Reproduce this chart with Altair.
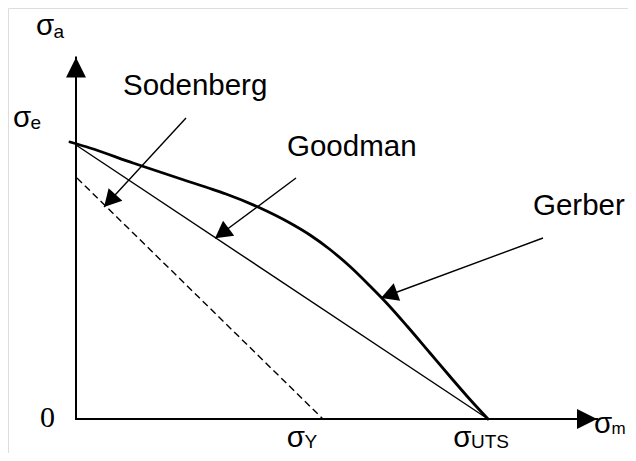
import altair as alt
import pandas as pd
import numpy as np

# ---- data (units: pixels measured from the origin of the diagram) ----
gerber_x = [-6, 14, 57, 114, 134, 150, 182, 214, 234, 254, 274, 294, 311, 331, 354, 374, 394, 412]
gerber_y = [277, 271, 256, 237, 230.5, 225, 212, 196, 184, 169.5, 152.5, 133, 115.5, 93, 66, 42.5, 19.5, 0]
goodman_x = [0, 412]
goodman_y = [274, 0]
soderberg_x = [1, 247]
soderberg_y = [241, 0]

# axes (start -> arrow tip)
axis_x = [0, 0]
axis_y = [0, 0]
axis_x2 = [0, 521]
axis_y2 = [361.5, 0]

# annotation arrows
arrow_names = ["Sodenberg", "Goodman", "Gerber"]
arrow_tail_x = [110, 220, 467]
arrow_tail_y = [301, 241, 181]
arrow_tip_x = [28, 139, 305]
arrow_tip_y = [212, 180.7, 121]

# labels
label_text = ["Sodenberg", "Goodman", "Gerber"]
label_x = [47, 211, 457]
label_y = [324, 263, 204]

sigma_x = [-40, -63, 210.7, 377.3, 518]
sigma_y = [384, 292.3, -27.5, -27.5, -14]
sub_text = ["a", "e", "Y", "UTS", "m"]
sub_x = [-22.5, -45.5, 228.5, 395, 535.5]
sub_y = [381.5, 290.5, -29, -29, -15.3]
sub_size = [19, 19, 19, 19, 17]

zero_text = ["0"]
zero_x = [-36]
zero_y = [-8.3]

W, H = 620, 445
XD = [-68, W - 68]
YD = [411 - H, 411]

xs = alt.Scale(domain=XD, nice=False, zero=False)
ys = alt.Scale(domain=YD, nice=False, zero=False)


def X(f="x"):
    return alt.X(f, type="quantitative", scale=xs, axis=None)


def Y(f="y"):
    return alt.Y(f, type="quantitative", scale=ys, axis=None)


def heading(dx, dy):
    return float(np.degrees(np.arctan2(dx, dy)) % 360)


gerber = alt.Chart(pd.DataFrame({"x": gerber_x, "y": gerber_y})).mark_line(
    color="black", strokeWidth=2.8, strokeCap="round", interpolate="monotone"
).encode(x=X(), y=Y())

goodman = alt.Chart(pd.DataFrame({"x": goodman_x, "y": goodman_y})).mark_line(
    color="black", strokeWidth=1.4
).encode(x=X(), y=Y())

soderberg = alt.Chart(pd.DataFrame({"x": soderberg_x, "y": soderberg_y})).mark_line(
    color="black", strokeWidth=1.4, strokeDash=[7, 4]
).encode(x=X(), y=Y())

axes_df = pd.DataFrame({"x": axis_x, "y": axis_y, "x2": axis_x2, "y2": axis_y2})
axes = alt.Chart(axes_df).mark_rule(color="black", strokeWidth=2, strokeCap="square").encode(
    x=X(), y=Y(), x2="x2", y2="y2"
)
axes_heads_df = pd.DataFrame({
    "x": axis_x2, "y": axis_y2,
    "a": [heading(a2 - a1, b2 - b1) for a1, b1, a2, b2 in zip(axis_x, axis_y, axis_x2, axis_y2)],
})
axes_heads = alt.Chart(axes_heads_df).mark_point(
    shape="M0,0L-1,2L1,2Z", filled=True, color="black", opacity=1, size=400, strokeWidth=0
).encode(x=X(), y=Y(), angle=alt.Angle("a:Q", scale=None))

arr_df = pd.DataFrame({
    "name": arrow_names, "x": arrow_tail_x, "y": arrow_tail_y,
    "x2": arrow_tip_x, "y2": arrow_tip_y,
})
arr_df["a"] = [heading(b - a, d - c) for a, b, c, d in zip(arrow_tail_x, arrow_tip_x, arrow_tail_y, arrow_tip_y)]
arrows = alt.Chart(arr_df).mark_rule(color="black", strokeWidth=1.4).encode(
    x=X(), y=Y(), x2="x2", y2="y2"
)
heads = alt.Chart(arr_df).mark_point(
    shape="M0,0L-1.1,2L1.1,2Z", filled=True, color="black", opacity=1, size=289, strokeWidth=0
).encode(x=X("x2"), y=Y("y2"), angle=alt.Angle("a:Q", scale=None))

labels = alt.Chart(pd.DataFrame({"t": label_text, "x": label_x, "y": label_y})).mark_text(
    font="Liberation Sans", fontSize=29.5, align="left", baseline="alphabetic", color="black"
).encode(x=X(), y=Y(), text="t:N")

sigmas = alt.Chart(pd.DataFrame({"t": ["σ"] * len(sigma_x), "x": sigma_x, "y": sigma_y})).mark_text(
    font="Liberation Sans", fontSize=29.5, align="left", baseline="alphabetic", color="black"
).encode(x=X(), y=Y(), text="t:N")

subs = alt.Chart(pd.DataFrame({"t": sub_text, "x": sub_x, "y": sub_y, "s": sub_size})).mark_text(
    font="Liberation Sans", align="left", baseline="alphabetic", color="black"
).encode(x=X(), y=Y(), text="t:N", size=alt.Size("s:Q", scale=None, legend=None))

zero = alt.Chart(pd.DataFrame({"t": zero_text, "x": zero_x, "y": zero_y})).mark_text(
    font="Liberation Serif", fontSize=30, align="left", baseline="alphabetic", color="black"
).encode(x=X(), y=Y(), text="t:N")

chart = alt.layer(
    soderberg, goodman, gerber, axes, axes_heads, arrows, heads, labels, sigmas, subs, zero
).properties(
    width=W, height=H, padding=0, autosize=alt.AutoSizeParams(type="none")
).configure_view(strokeWidth=0).configure(background="white")

chart.save("out.html", embed_options={"renderer": "svg", "actions": False})
